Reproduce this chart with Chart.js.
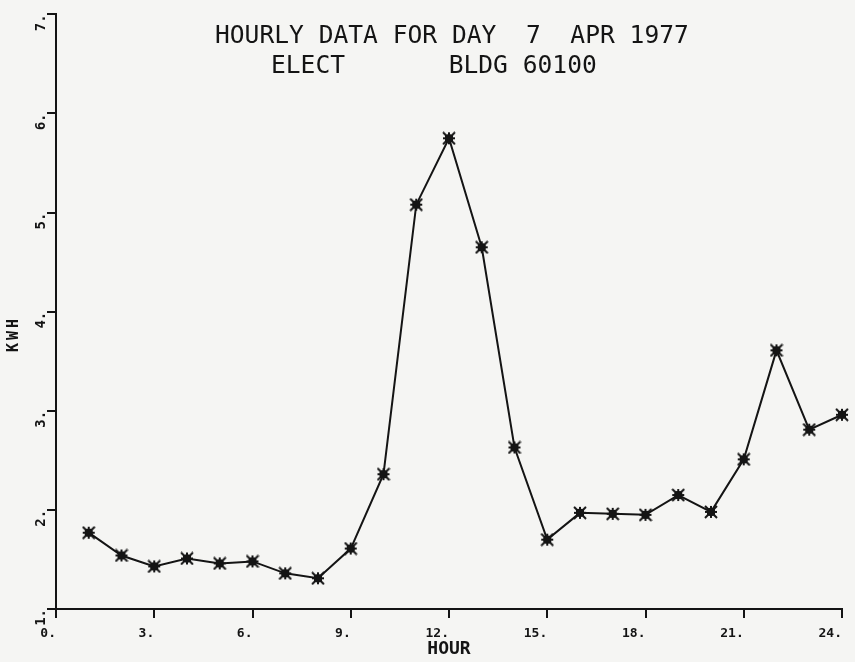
<!DOCTYPE html>
<html>
<head>
<meta charset="utf-8">
<script src="https://cdn.jsdelivr.net/npm/chart.js@4/dist/chart.umd.min.js"></script>
<style>
  html, body { margin: 0; padding: 0; background: #f5f5f3; }
  #wrap { width: 855px; height: 662px; position: relative; }
</style>
</head>
<body>
<div id="wrap"><canvas id="c" width="855" height="662"></canvas></div>
<script>
// ---- data ----
const hours = [1,2,3,4,5,6,7,8,9,10,11,12,13,14,15,16,17,18,19,20,21,22,23,24];
const kwh = [1.77,1.54,1.43,1.51,1.46,1.48,1.36,1.31,1.61,2.36,5.08,5.75,4.65,2.63,1.70,1.97,1.96,1.95,2.15,1.98,2.51,3.61,2.81,2.96];
const xTickValues = [0,3,6,9,12,15,18,21,24];
const xTickLabels = ['0.','3.','6.','9.','12.','15.','18.','21.','24.'];
const yTickValues = [1,2,3,4,5,6,7];
const yTickLabels = ['1.','2.','3.','4.','5.','6.','7.'];
const titleLines = ['HOURLY DATA FOR DAY  7  APR 1977', 'ELECT       BLDG 60100'];
const xTitle = 'HOUR';
const yTitle = 'KWH';

const INK = '#141414';
const MONO = '"DejaVu Sans Mono", "Liberation Mono", monospace';

// marker: filled box with asterisk spikes
function makeMarker() {
  const m = document.createElement('canvas');
  m.width = 14; m.height = 14;
  const g = m.getContext('2d');
  g.strokeStyle = INK; g.fillStyle = INK; g.lineWidth = 2;
  g.beginPath();
  g.moveTo(1,1); g.lineTo(13,13);
  g.moveTo(13,1); g.lineTo(1,13);
  g.moveTo(7,1); g.lineTo(7,13);
  g.moveTo(1,7); g.lineTo(13,7);
  g.stroke();
  g.fillRect(3,3,8,8);
  return m;
}
const marker = makeMarker();

const textPlugin = {
  id: 'textPlugin',
  afterDraw(chart) {
    const ctx = chart.ctx;
    const a = chart.chartArea;
    ctx.save();
    ctx.fillStyle = INK;
    ctx.font = '24.6px ' + MONO;
    ctx.textAlign = 'left';
    ctx.textBaseline = 'alphabetic';
    ctx.fillText(titleLines[0], a.left + 159, 43);
    ctx.fillText(titleLines[1], a.left + 215, 73);
    // y axis title
    ctx.translate(14, 334);
    ctx.rotate(-Math.PI / 2);
    ctx.font = 'bold 15px ' + MONO;
    ctx.letterSpacing = '3px';
    ctx.textAlign = 'center';
    ctx.textBaseline = 'middle';
    ctx.fillText(yTitle, 0, 0);
    ctx.restore();
  }
};

new Chart(document.getElementById('c'), {
  type: 'line',
  data: {
    datasets: [{
      data: hours.map((h, i) => ({ x: h, y: kwh[i] })),
      borderColor: INK,
      borderWidth: 2,
      tension: 0,
      fill: false,
      clip: false,
      pointStyle: marker,
      pointRadius: 7,
      pointHoverRadius: 7
    }]
  },
  options: {
    responsive: false,
    animation: false,
    events: [],
    layout: { padding: { top: 13, right: 13, left: 0, bottom: 0 } },
    plugins: {
      legend: { display: false },
      tooltip: { enabled: false },
      title: { display: false }
    },
    scales: {
      x: {
        type: 'linear',
        min: 0, max: 24,
        afterBuildTicks(s) { s.ticks = xTickValues.map(v => ({ value: v })); },
        afterFit(s) { s.height = 53; },
        ticks: {
          color: INK,
          padding: 8,
          align: 'end',
          maxRotation: 0,
          autoSkip: false,
          font: { family: MONO, size: 13, weight: 'bold' },
          callback(v) { const i = xTickValues.indexOf(v); return i >= 0 ? xTickLabels[i] : ''; }
        },
        grid: { display: true, drawOnChartArea: false, drawTicks: true, tickLength: 9, color: INK, lineWidth: 2 },
        border: { display: true, color: INK, width: 2 },
        title: {
          display: true, text: xTitle, color: INK,
          font: { family: MONO, size: 18, weight: 'bold' },
          padding: { top: 0, bottom: 2 }
        }
      },
      y: {
        type: 'linear',
        min: 1, max: 7,
        afterBuildTicks(s) { s.ticks = yTickValues.map(v => ({ value: v })); },
        afterFit(s) { s.width = 56; },
        ticks: {
          color: INK,
          padding: 6,
          minRotation: 90, maxRotation: 90,
          autoSkip: false,
          font: { family: MONO, size: 14, weight: 'bold' },
          callback(v) { const i = yTickValues.indexOf(v); return i >= 0 ? yTickLabels[i] : ''; }
        },
        grid: { display: true, drawOnChartArea: false, drawTicks: true, tickLength: 9, color: INK, lineWidth: 2 },
        border: { display: true, color: INK, width: 2 }
      }
    }
  },
  plugins: [textPlugin]
});
</script>
</body>
</html>
